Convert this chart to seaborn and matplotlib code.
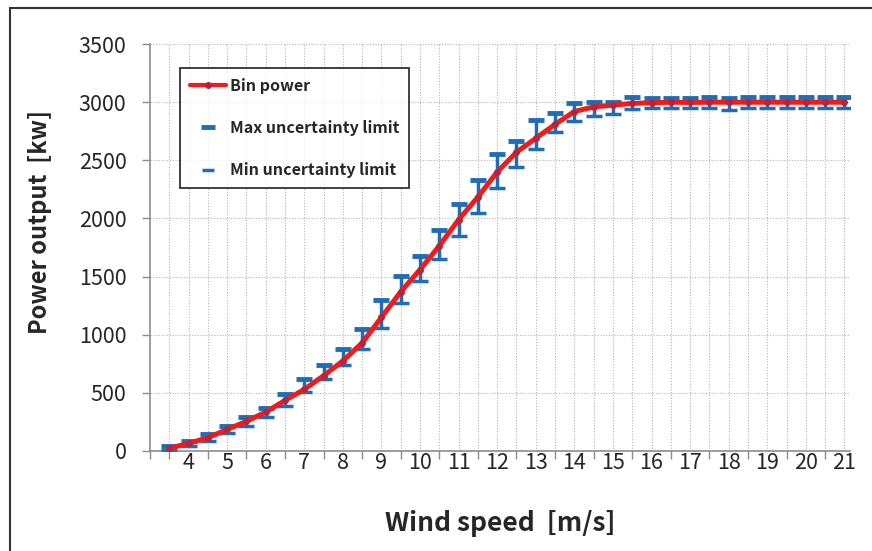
import matplotlib
matplotlib.use("Agg")
import matplotlib.pyplot as plt
import numpy as np
import pandas as pd
import seaborn as sns
from matplotlib.lines import Line2D
from matplotlib.patches import Rectangle

# wind speed bins [m/s]
wind_speed = [3.5, 4.0, 4.5, 5.0, 5.5, 6.0, 6.5, 7.0, 7.5, 8.0, 8.5, 9.0,
              9.5, 10.0, 10.5, 11.0, 11.5, 12.0, 12.5, 13.0, 13.5, 14.0, 14.5, 15.0,
              15.5, 16.0, 16.5, 17.0, 17.5, 18.0, 18.5, 19.0, 19.5, 20.0, 20.5, 21.0]

# bin power [kw]
bin_power = [25, 65, 115, 185, 255, 335, 435, 530, 648, 775, 930, 1150,
             1370, 1560, 1765, 1990, 2185, 2400, 2570, 2690, 2810, 2920, 2960, 2975,
             2990, 2995, 3000, 2998, 3000, 3000, 3000, 3000, 3000, 3000, 3000, 3000]

max_limit = [45, 88, 146, 218, 290, 372, 490, 615, 740, 880, 1050, 1300,
             1508, 1680, 1905, 2125, 2330, 2555, 2665, 2850, 2910, 2990, 3005, 3005,
             3045, 3040, 3040, 3040, 3045, 3040, 3045, 3045, 3045, 3045, 3045, 3045]

min_limit = [10, 45, 88, 155, 218, 295, 390, 505, 619, 740, 877, 1060,
             1276, 1465, 1651, 1850, 2047, 2262, 2442, 2597, 2743, 2840, 2885, 2900,
             2940, 2950, 2950, 2952, 2950, 2935, 2950, 2950, 2950, 2950, 2950, 2950]

x_tick_labels = ["4", "5", "6", "7", "8", "9", "10", "11", "12", "13", "14", "15",
                 "16", "17", "18", "19", "20", "21"]
y_ticks = [0, 500, 1000, 1500, 2000, 2500, 3000, 3500]

df = pd.DataFrame({"wind": wind_speed, "power": bin_power,
                   "max": max_limit, "min": min_limit})

sns.set_style("white")
plt.rcParams["font.family"] = ["Noto Sans CJK KR", "DejaVu Sans"]

red = "#F21A1A"
blue = "#1F6DB5"
grid_c = "#B4B4B4"

fig, ax = plt.subplots(figsize=(8.72, 5.51), dpi=100)
fig.subplots_adjust(left=0.172, right=0.975, bottom=0.1815, top=0.920)

# uncertainty bars
ax.vlines(df["wind"], df["min"], df["max"], color=blue, lw=2.5, zorder=3)
ax.plot(df["wind"], df["max"], ls="none", marker="_", ms=11, mew=3.5, color=blue, zorder=3)
ax.plot(df["wind"], df["min"], ls="none", marker="_", ms=11, mew=2.5, color=blue, zorder=3)

sns.lineplot(data=df, x="wind", y="power", color=red, lw=3.6, marker="o", ms=5,
             markeredgewidth=0, markerfacecolor="#B3263A", ax=ax, zorder=4)

ax.set_xlim(3.0, 21.15)
ax.set_ylim(0, 3500)
ax.set_yticks(y_ticks)
ax.set_yticklabels([str(v) for v in y_ticks])
ax.set_xticks(np.arange(3.0, 21.01, 0.5), minor=True)
ax.set_xticks(range(4, 22))
ax.set_xticklabels(x_tick_labels)

for v in wind_speed:
    ax.axvline(v, color=grid_c, lw=0.8, ls=(0, (1, 1.5)), zorder=1)
for v in y_ticks[1:]:
    ax.axhline(v, color=grid_c, lw=0.8, ls=(0, (1, 1.5)), zorder=1)

for s in ["top", "right"]:
    ax.spines[s].set_visible(False)
for s in ["left", "bottom"]:
    ax.spines[s].set_color("#8C8C8C")
    ax.spines[s].set_linewidth(1.2)

ax.tick_params(axis="x", which="both", length=6, width=1, color="#8C8C8C",
               direction="out", bottom=True, labelsize=15.5, pad=1)
ax.tick_params(axis="x", which="major", length=0)
ax.tick_params(axis="y", length=6, width=1, color="#8C8C8C", direction="out",
               left=True, labelsize=15.5, pad=11)

ax.set_xlabel("Wind speed  [m/s]", fontsize=19, fontweight="bold", labelpad=26)
ax.set_ylabel("Power output  [kw]", fontsize=17, fontweight="bold")
ax.yaxis.set_label_coords(-0.14, 0.563)

handles = [
    Line2D([], [], color=red, lw=3, marker="o", ms=5, markerfacecolor="#B3263A",
           markeredgewidth=0),
    Line2D([], [], ls="none", marker="_", ms=10, mew=3.5, color=blue),
    Line2D([], [], ls="none", marker="_", ms=8, mew=2.5, color=blue),
]
labels = ["Bin power", "Max uncertainty limit", "Min uncertainty limit"]
leg = ax.legend(handles, labels, loc="upper left", bbox_to_anchor=(0.043, 0.941),
                borderaxespad=0, frameon=True, fancybox=False, handlelength=2.3,
                handletextpad=0.2, labelspacing=1.65, borderpad=0.6,
                prop={"weight": "bold", "size": 11.5})
leg.get_frame().set_edgecolor("black")
leg.get_frame().set_linewidth(1.3)
leg.set_zorder(6)

# chart border
fig.patches.append(Rectangle((10 / 872, -0.1), 1.2, 1.1 - 8 / 551, transform=fig.transFigure,
                             fill=False, edgecolor="#333333", lw=1.5))

fig.savefig("out.png", dpi=100)
